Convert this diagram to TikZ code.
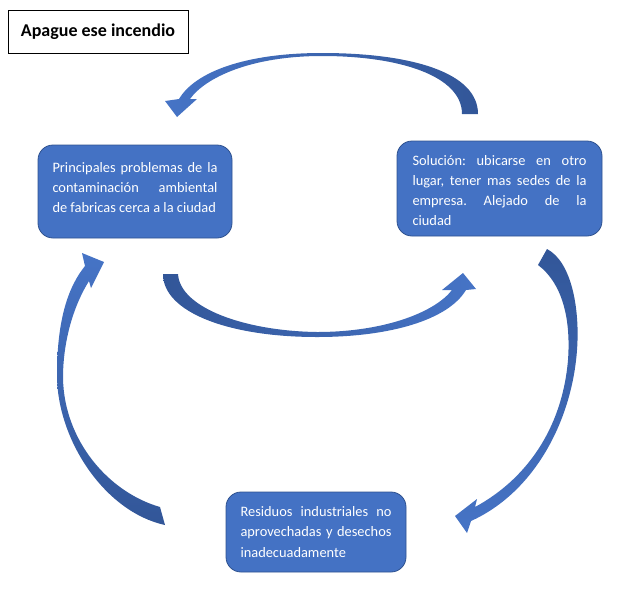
\documentclass[tikz,border=0pt]{standalone}
\usepackage{fontspec}
\setmainfont{Carlito}
\definecolor{boxblue}{RGB}{68,114,196}
\definecolor{boxedge}{RGB}{47,82,143}
\definecolor{arrowdark}{RGB}{50,86,152}
\definecolor{arrowlight}{RGB}{70,116,198}
\newcommand\boxfont{\fontsize{14.4}{20.3}\selectfont\frenchspacing\hyphenpenalty=10000\relax}

\begin{document}
\begin{tikzpicture}[
  x=1pt, y=-1pt,
  stage/.style={draw=boxedge, line width=0.8pt, fill=boxblue, rounded corners=15pt,
    text=white, font=\boxfont, align=justify, inner sep=0pt},
  headbox/.style={draw, line width=0.8pt, font=\fontsize{18}{22}\selectfont\bfseries},
]
\useasboundingbox (0,0) rectangle (628,592);

% Title
\node[headbox, minimum width=180pt, minimum height=43pt] (head) at (98,31.5) {Apague ese incendio};

% The three stages
\node[stage, text width=165pt, minimum width=194pt, minimum height=93pt] (prob) at (135,191.5)
  {Principales problemas de la\linebreak contaminación ambiental\linebreak de fabricas cerca a la ciudad\par\kern8pt};
\node[stage, text width=174pt, minimum width=205pt, minimum height=95pt] (sol) at (499.5,188.5)
  {Solución: ubicarse en otro\linebreak lugar, tener mas sedes de la\linebreak empresa. Alejado de la\linebreak ciudad\par\kern-4pt};
\node[stage, text width=151pt, minimum width=180pt, minimum height=80pt] (res) at (316,532)
  {Residuos industriales no\linebreak aprovechadas y desechos\linebreak inadecuadamente};

% Curved arrow, top (sol -> prob)
\shade[left color=arrowlight, right color=arrowdark]
  (462,114) -- (478,114)
  .. controls (478,72) and (410,53) .. (322,53)
  .. controls (245,53) and (195,72) .. (179,99)
  -- (165,101) -- (177,117) -- (197,99) -- (190,99)
  .. controls (205,78) and (250,56) .. (322,56)
  .. controls (400,56) and (462,76) .. (462,114) -- cycle;

% Curved arrow, middle (prob -> sol)
\shade[left color=arrowdark, right color=arrowlight]
  (163,274) -- (178,274)
  .. controls (180,308) and (245,331) .. (317,332)
  .. controls (385,332) and (435,312) .. (452,290)
  -- (442,290) -- (463,273) -- (476,289) -- (466,290)
  .. controls (448,320) and (390,337) .. (317,337)
  .. controls (228,337) and (163,312) .. (163,274) -- cycle;

% Curved arrow, right (sol -> res)
\shade[top color=arrowdark, bottom color=arrowlight]
  (538,265) -- (547,249)
  .. controls (572,262) and (580,310) .. (577,350)
  .. controls (572,420) and (535,492) .. (471,521)
  -- (467,533) -- (455,516) -- (477,499) -- (475,507)
  .. controls (525,480) and (562,430) .. (568,360)
  .. controls (571,318) and (562,283) .. (538,265) -- cycle;

% Curved arrow, left (res -> prob)
\shade[top color=arrowlight, bottom color=arrowdark]
  (160,507) -- (165,525)
  .. controls (105,512) and (57,440) .. (57,375)
  .. controls (57,320) and (68,287) .. (85,266)
  -- (82,253) -- (104,262) -- (91,288) -- (89,281)
  .. controls (74,305) and (63,340) .. (63,378)
  .. controls (64,440) and (108,492) .. (160,507) -- cycle;

\end{tikzpicture}
\end{document}
